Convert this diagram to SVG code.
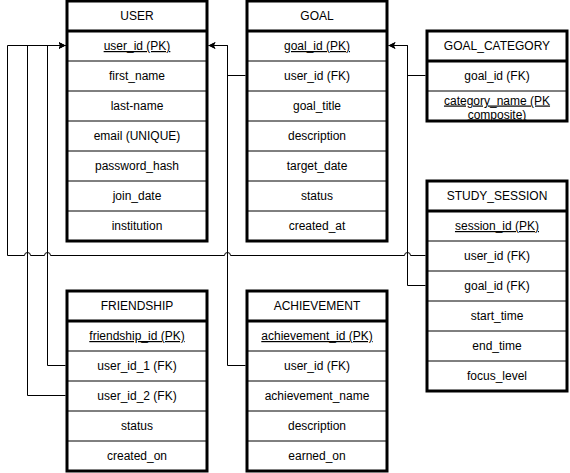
<svg xmlns="http://www.w3.org/2000/svg" width="570" height="473" viewBox="0 0 570 473">
<style>
.tb{fill:#fff;stroke:#000;stroke-width:3}
.sep{stroke:#000;stroke-width:1}
.hs{stroke:#000;stroke-width:3}
text{font-family:"Liberation Sans",Arial,sans-serif;font-size:12px;text-anchor:middle;fill:#000}
.pk{text-decoration:underline}
.cn{fill:none;stroke:#000;stroke-width:1}
</style>
<defs>
<marker id="arr" viewBox="0 0 8 8" refX="8" refY="4" markerWidth="7" markerHeight="7" orient="auto" markerUnits="userSpaceOnUse">
<path d="M0,0 L8,4 L0,8 L2,4 Z" fill="#000"/>
</marker>
</defs>
<g id="USER">
<rect class="tb" x="67" y="1" width="140" height="240"/>
<line class="hs" x1="67" y1="31" x2="207" y2="31"/>
<g class="sep"><line x1="67" y1="61" x2="207" y2="61"/><line x1="67" y1="91" x2="207" y2="91"/><line x1="67" y1="121" x2="207" y2="121"/><line x1="67" y1="151" x2="207" y2="151"/><line x1="67" y1="181" x2="207" y2="181"/><line x1="67" y1="211" x2="207" y2="211"/></g>
<text x="137" y="20">USER</text>
<text class="pk" x="137" y="50">user_id (PK)</text>
<text x="137" y="80">first_name</text>
<text x="137" y="110">last-name</text>
<text x="137" y="140">email (UNIQUE)</text>
<text x="137" y="170">password_hash</text>
<text x="137" y="200">join_date</text>
<text x="137" y="230">institution</text>
</g>
<g id="GOAL">
<rect class="tb" x="247" y="1" width="140" height="240"/>
<line class="hs" x1="247" y1="31" x2="387" y2="31"/>
<g class="sep"><line x1="247" y1="61" x2="387" y2="61"/><line x1="247" y1="91" x2="387" y2="91"/><line x1="247" y1="121" x2="387" y2="121"/><line x1="247" y1="151" x2="387" y2="151"/><line x1="247" y1="181" x2="387" y2="181"/><line x1="247" y1="211" x2="387" y2="211"/></g>
<text x="317" y="20">GOAL</text>
<text class="pk" x="317" y="50">goal_id (PK)</text>
<text x="317" y="80">user_id (FK)</text>
<text x="317" y="110">goal_title</text>
<text x="317" y="140">description</text>
<text x="317" y="170">target_date</text>
<text x="317" y="200">status</text>
<text x="317" y="230">created_at</text>
</g>
<g id="GOAL_CATEGORY">
<rect class="tb" x="427" y="31" width="140" height="90"/>
<line class="hs" x1="427" y1="61" x2="567" y2="61"/>
<line class="sep" x1="427" y1="91" x2="567" y2="91"/>
<text x="497" y="50">GOAL_CATEGORY</text>
<text x="497" y="80">goal_id (FK)</text>
<text class="pk" x="497" y="104.5">category_name (PK</text>
<text class="pk" x="497" y="118.5">composite)</text>
</g>
<g id="STUDY_SESSION">
<rect class="tb" x="427" y="181" width="140" height="210"/>
<line class="hs" x1="427" y1="211" x2="567" y2="211"/>
<g class="sep"><line x1="427" y1="241" x2="567" y2="241"/><line x1="427" y1="271" x2="567" y2="271"/><line x1="427" y1="301" x2="567" y2="301"/><line x1="427" y1="331" x2="567" y2="331"/><line x1="427" y1="361" x2="567" y2="361"/></g>
<text x="497" y="200">STUDY_SESSION</text>
<text class="pk" x="497" y="230">session_id (PK)</text>
<text x="497" y="260">user_id (FK)</text>
<text x="497" y="290">goal_id (FK)</text>
<text x="497" y="320">start_time</text>
<text x="497" y="350">end_time</text>
<text x="497" y="380">focus_level</text>
</g>
<g id="FRIENDSHIP">
<rect class="tb" x="67" y="291" width="140" height="180"/>
<line class="hs" x1="67" y1="321" x2="207" y2="321"/>
<g class="sep"><line x1="67" y1="351" x2="207" y2="351"/><line x1="67" y1="381" x2="207" y2="381"/><line x1="67" y1="411" x2="207" y2="411"/><line x1="67" y1="441" x2="207" y2="441"/></g>
<text x="137" y="310">FRIENDSHIP</text>
<text class="pk" x="137" y="340">friendship_id (PK)</text>
<text x="137" y="370">user_id_1 (FK)</text>
<text x="137" y="400">user_id_2 (FK)</text>
<text x="137" y="430">status</text>
<text x="137" y="460">created_on</text>
</g>
<g id="ACHIEVEMENT">
<rect class="tb" x="247" y="291" width="140" height="180"/>
<line class="hs" x1="247" y1="321" x2="387" y2="321"/>
<g class="sep"><line x1="247" y1="351" x2="387" y2="351"/><line x1="247" y1="381" x2="387" y2="381"/><line x1="247" y1="411" x2="387" y2="411"/><line x1="247" y1="441" x2="387" y2="441"/></g>
<text x="317" y="310">ACHIEVEMENT</text>
<text class="pk" x="317" y="340">achievement_id (PK)</text>
<text x="317" y="370">user_id (FK)</text>
<text x="317" y="400">achievement_name</text>
<text x="317" y="430">description</text>
<text x="317" y="460">earned_on</text>
</g>
<g id="connectors" class="cn">
<path marker-end="url(#arr)" d="M245.5,75.5 H227.5 V45.5 H208.5"/>
<path marker-end="url(#arr)" d="M245.5,365.5 H227.5 V45.5 H208.5"/>
<path marker-end="url(#arr)" d="M425.5,75.5 H407.5 V45.5 H388.5"/>
<path marker-end="url(#arr)" d="M425.5,285.5 H407.5 V45.5 H388.5"/>
<path marker-end="url(#arr)" d="M65.5,365.5 H47.5 V45.5 H65.5"/>
<path marker-end="url(#arr)" d="M65.5,395.5 H27.5 V45.5 H65.5"/>
<path marker-end="url(#arr)" d="M425.5,255.5 H410.5 A3,3 0 0 0 404.5,255.5 H230.5 A3,3 0 0 0 224.5,255.5 H50.5 A3,3 0 0 0 44.5,255.5 H30.5 A3,3 0 0 0 24.5,255.5 H7.5 V45.5 H65.5"/>
</g>
</svg>
